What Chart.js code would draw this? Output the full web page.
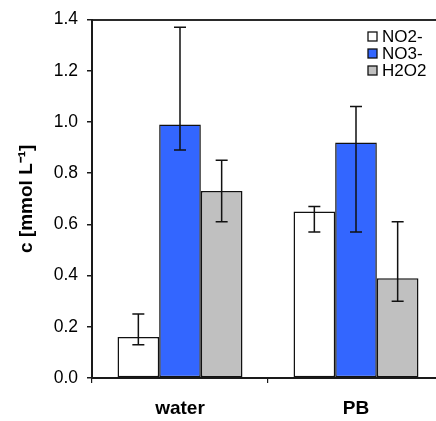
<!DOCTYPE html>
<html>
<head>
<meta charset="utf-8">
<script src="https://cdn.jsdelivr.net/npm/chart.js@4"></script>
<style>
html,body{margin:0;padding:0;overflow:hidden;background:#fff;}
#wrap{width:460px;height:421px;}
</style>
</head>
<body>
<div id="wrap"><canvas id="c" width="460" height="421"></canvas></div>
<script>
// ---- data ----
const categories = ['water', 'PB'];
const seriesNames = ['NO2-', 'NO3-', 'H2O2'];
const no2 = [0.16, 0.65];
const no3 = [0.99, 0.92];
const h2o2 = [0.73, 0.39];
const no2Low = [0.13, 0.57];
const no2High = [0.25, 0.67];
const no3Low = [0.89, 0.57];
const no3High = [1.37, 1.06];
const h2o2Low = [0.61, 0.30];
const h2o2High = [0.85, 0.61];
const yTickValues = [0, 0.2, 0.4, 0.6, 0.8, 1.0, 1.2, 1.4];
const yTitle = 'c [mmol L\u207B\u00B9]';

const seriesColors = ['#ffffff', '#3366ff', '#c0c0c0'];
const lows = [no2Low, no3Low, h2o2Low];
const highs = [no2High, no3High, h2o2High];
const values = [no2, no3, h2o2];

const FONT = "'Liberation Sans', Arial, sans-serif";
const AX = '#1a1a1a';

const errorBars = {
  id: 'errorBars',
  afterDatasetsDraw(chart) {
    const ctx = chart.ctx;
    const ys = chart.scales.y;
    ctx.save();
    ctx.strokeStyle = '#111';
    ctx.lineWidth = 1.5;
    chart.data.datasets.forEach((ds, i) => {
      const meta = chart.getDatasetMeta(i);
      meta.data.forEach((bar, j) => {
        const x = bar.x;
        const yl = ys.getPixelForValue(lows[i][j]);
        const yh = ys.getPixelForValue(highs[i][j]);
        const cap = 6;
        ctx.beginPath();
        ctx.moveTo(x, yl); ctx.lineTo(x, yh);
        ctx.moveTo(x - cap, yl); ctx.lineTo(x + cap, yl);
        ctx.moveTo(x - cap, yh); ctx.lineTo(x + cap, yh);
        ctx.stroke();
      });
    });
    ctx.restore();
  }
};

const insideLegend = {
  id: 'insideLegend',
  afterDraw(chart) {
    const ctx = chart.ctx;
    const a = chart.chartArea;
    ctx.save();
    ctx.font = '17px ' + FONT;
    ctx.textBaseline = 'middle';
    ctx.textAlign = 'left';
    chart.data.datasets.forEach((ds, i) => {
      const cy = a.top + 17 + i * 17;
      const bx = a.right - 76;
      ctx.fillStyle = ds.backgroundColor;
      ctx.fillRect(bx, cy - 4.5, 9, 9);
      ctx.strokeStyle = '#111';
      ctx.lineWidth = 1.3;
      ctx.strokeRect(bx, cy - 4.5, 9, 9);
      ctx.fillStyle = '#000';
      ctx.fillText(ds.label, a.right - 62, cy + 0.5);
    });
    ctx.restore();
  }
};

new Chart(document.getElementById('c'), {
  type: 'bar',
  data: {
    labels: categories,
    datasets: seriesNames.map((n, i) => ({
      label: n,
      data: values[i],
      backgroundColor: seriesColors[i],
      borderColor: '#111',
      borderWidth: 1.5,
      borderSkipped: false,
      categoryPercentage: 0.71,
      barPercentage: 1.0
    }))
  },
  options: {
    responsive: false,
    animation: false,
    devicePixelRatio: 1,
    layout: { padding: { top: 15, right: 16, left: 0, bottom: 0 } },
    plugins: { legend: { display: false }, tooltip: { enabled: false } },
    scales: {
      x: {
        position: 'bottom',
        offset: true,
        grid: { display: true, drawOnChartArea: false, drawTicks: true, tickLength: 5, color: AX, lineWidth: 1.2, offset: true },
        border: { display: true, color: AX, width: 2 },
        ticks: { font: { family: FONT, size: 19, weight: 'bold' }, color: '#000', padding: 14 },
        afterFit(s) { s.height = 43; }
      },
      x2: {
        type: 'category',
        labels: categories,
        position: 'top',
        grid: { display: true, drawOnChartArea: false, drawTicks: false },
        border: { display: true, color: '#2a2a2a', width: 2 },
        ticks: { display: false },
        afterFit(s) { s.height = 0; }
      },
      y: {
        min: 0, max: 1.4,
        afterBuildTicks(s) { s.ticks = yTickValues.map(v => ({ value: v })); },
        grid: { display: true, drawOnChartArea: false, drawTicks: true, tickLength: 5, color: AX, lineWidth: 1.5 },
        border: { display: true, color: AX, width: 2 },
        ticks: { font: { family: FONT, size: 17.5 }, color: '#000', padding: 9, callback: v => Number(v).toFixed(1) },
        title: { display: true, text: yTitle, font: { family: FONT, size: 19, weight: 'bold' }, color: '#000', padding: { top: 15, bottom: 0 } },
        afterFit(s) { s.width = 92; }
      }
    }
  },
  plugins: [errorBars, insideLegend]
});
</script>
</body>
</html>
